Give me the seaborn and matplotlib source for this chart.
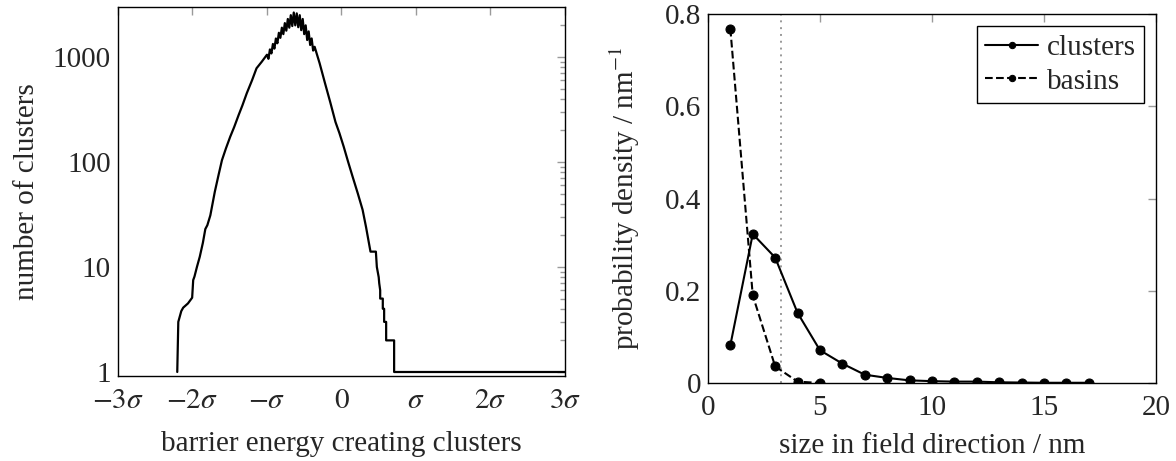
import numpy as np
import pandas as pd
import seaborn as sns
import matplotlib
matplotlib.use("Agg")
import matplotlib.pyplot as plt
from matplotlib.ticker import FixedLocator, NullFormatter

# left panel: histogram of barrier energies (x in units of sigma)
energy_sigma = [
    -2.204, -2.19, -2.15, -2.124, -2.06, -2.004, -1.99, -1.973, -1.94, -1.902,
    -1.86, -1.827, -1.80, -1.76, -1.70, -1.65, -1.604, -1.55, -1.493, -1.44,
    -1.38, -1.33, -1.271, -1.20, -1.14, -1.07,
    -1.00, -0.98, -0.96, -0.94, -0.92, -0.90, -0.88, -0.86, -0.84, -0.82,
    -0.80, -0.78, -0.76, -0.74, -0.72, -0.70, -0.68, -0.66, -0.64, -0.62,
    -0.60, -0.58, -0.56, -0.54, -0.52, -0.50, -0.48, -0.46, -0.44, -0.42,
    -0.40, -0.38, -0.36,
    -0.293, -0.22, -0.15, -0.08, -0.027, 0.03, 0.09, 0.151, 0.22, 0.284,
    0.33, 0.382, 0.39, 0.462, 0.475, 0.50, 0.507, 0.52, 0.52, 0.555, 0.555,
    0.573, 0.573, 0.60, 0.60, 0.707, 0.707, 3.0,
]
n_clusters = [
    1, 3.0, 3.8, 4.1, 4.5, 5.1, 7.5, 8.1, 10, 12.5,
    17, 23, 25, 31, 52, 75, 104, 135, 174, 215,
    280, 345, 451, 600, 780, 900,
    1050, 960, 1180, 1080, 1330, 1200, 1500, 1350, 1700, 1520,
    1900, 1650, 2100, 1780, 2300, 1900, 2500, 1970, 2650, 2000,
    2600, 1920, 2500, 1800, 2300, 1650, 2000, 1450, 1750, 1300,
    1500, 1150, 1250,
    871, 560, 370, 240, 188, 140, 100, 72, 50, 35,
    24, 15, 14, 14, 10, 8, 7, 6, 5, 5, 4,
    4, 3, 3, 2, 2, 1, 1,
]

# right panel: size distributions
size_nm = list(range(1, 18))
clusters_density = [0.082, 0.323, 0.272, 0.152, 0.071, 0.042, 0.018, 0.011,
                    0.0057, 0.004, 0.003, 0.003, 0.0015, 0.001, 0.0005,
                    0.0005, 0.0005]
basin_size_nm = [1, 2, 3, 4, 5]
basins_density = [0.768, 0.19, 0.036, 0.003, 0.0]
cutoff_nm = 3.25

sns.set_theme(style="white")
plt.rcParams["font.family"] = ["Liberation Serif", "DejaVu Serif"]
plt.rcParams["mathtext.fontset"] = "stix"
plt.rcParams["axes.edgecolor"] = "black"
plt.rcParams["axes.linewidth"] = 1.0

fs = 21
tick_grey = "#9a9a9a"

fig = plt.figure(figsize=(11.76, 4.61), dpi=100)
ax1 = fig.add_axes([0.1003, 0.1844, 0.3801, 0.8004])
ax2 = fig.add_axes([0.602, 0.1692, 0.381, 0.8004])

# ---- left panel
sns.lineplot(x=energy_sigma, y=n_clusters, ax=ax1, color="black", lw=1.6,
             estimator=None, sort=False)
ax1.set_yscale("log")
ax1.set_xlim(-3, 3)
ax1.set_ylim(0.916, 2990)
ax1.set_xticks([-3, -2, -1, 0, 1, 2, 3])
ax1.set_xticklabels([r"$-3\sigma$", r"$-2\sigma$", r"$-\sigma$", r"$0$",
                     r"$\sigma$", r"$2\sigma$", r"$3\sigma$"])
ax1.yaxis.set_major_locator(FixedLocator([1, 10, 100, 1000]))
ax1.set_yticklabels(["1", "10", "100", "1000"])
ax1.yaxis.set_minor_locator(FixedLocator(
    [m * 10 ** k for k in range(0, 4) for m in range(2, 10)]))
ax1.yaxis.set_minor_formatter(NullFormatter())
ax1.set_xlabel("barrier energy creating clusters", fontsize=fs, labelpad=12)
ax1.set_ylabel("number of clusters", fontsize=fs, labelpad=9)

# ---- right panel
ax2.axvline(cutoff_nm, color="#999999", lw=1.4, ls=(0, (1, 2.5)))
sns.lineplot(x=size_nm, y=clusters_density, ax=ax2, color="black", lw=1.5,
             marker="o", markersize=6.5, markeredgecolor="black",
             label="clusters")
sns.lineplot(x=basin_size_nm, y=basins_density, ax=ax2, color="black", lw=1.5,
             ls="--", marker="o", markersize=6.5, markeredgecolor="black",
             label="basins")
ax2.set_xlim(0, 20)
ax2.set_ylim(0, 0.8)
ax2.set_xticks([0, 5, 10, 15, 20])
ax2.set_yticks([0, 0.2, 0.4, 0.6, 0.8])
ax2.set_yticklabels(["0", "0.2", "0.4", "0.6", "0.8"])
ax2.set_xlabel("size in field direction / nm", fontsize=fs, labelpad=8)
ax2.set_ylabel(r"probability density / nm$^{-1}$", fontsize=fs, labelpad=16)
leg = ax2.legend(loc="upper right", fontsize=fs, frameon=True, fancybox=False,
                 edgecolor="black", framealpha=1, borderaxespad=0.4,
                 handlelength=1.8, handletextpad=0.3, borderpad=0.3,
                 labelspacing=0.25, markerscale=0.7)
leg.get_frame().set_linewidth(1.0)

for ax in (ax1, ax2):
    ax.tick_params(axis="both", which="both", direction="in", top=True,
                   right=True, color=tick_grey, labelsize=fs, width=1.0)
    ax.tick_params(which="major", length=6, pad=5)
    ax.tick_params(which="minor", length=3.5)
    ax.tick_params(axis="x", which="major", pad=9)
    for s in ax.spines.values():
        s.set_color("black")

fig.savefig("out.png", dpi=100)
